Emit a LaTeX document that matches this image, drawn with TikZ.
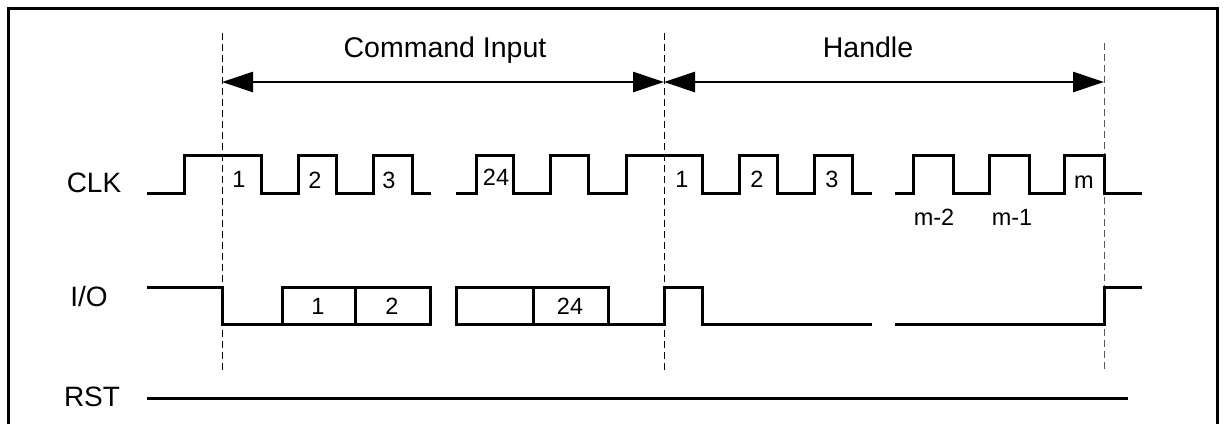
\documentclass[tikz,border=0pt]{standalone}
\usepackage{fontspec}
\setmainfont{Liberation Sans}
\usetikzlibrary{arrows.meta}
\tikzset{
  wave/.style={line width=3pt},
  marker/.style={line width=1pt, dash pattern=on 7pt off 4pt},
  sig/.style={inner sep=0pt, font=\fontsize{28}{30}\selectfont},
  tick/.style={inner sep=0pt, font=\fontsize{23.5}{25}\selectfont},
  phase/.style={inner sep=0pt, anchor=base}
}
\begin{document}
\begin{tikzpicture}[x=1pt, y=-1pt, >={Triangle[length=31pt,width=20pt]}, line join=miter, font=\fontsize{28.5}{30}\selectfont]
	\useasboundingbox (0,0) rectangle (1224,424);
	\def\hi{155} \def\lo{193}
	\def\ioh{287} \def\iol{324}
	% frame
	\draw [line width=3pt] (8,424)--(8,8)--(1217,8)--(1217,424);
	% phase markers
	\foreach \n/\x/\t/\c in {1/222/33/black, 2/664/33/black, 3/1104/43/black!65} {
		\coordinate (t\n) at (\x,\t);
		\coordinate (b\n) at (\x,370);
		\coordinate (a\n) at (\x,82);
		\draw [marker, \c] (t\n)--(b\n);
	}
	\draw [<->, line width=2.6pt] (a1)--(a2);
	\draw [<->, line width=2.6pt] (a2)--(a3);
	\node [phase] (cmd) at (445,57) {Command Input};
	\node [phase] (hdl) at (868,57) {Handle};
	% signal names
	\node [sig] (clk) at (94,183) {CLK};
	\node [sig] (io) at (89,296) {I/O};
	\node [sig] (rst) at (92,397) {RST};
	% CLK
	\draw [wave] (147,\lo) -| (184,\hi) -| (261,\lo) -| (298,\hi) -| (336,\lo) -| (373,\hi) -| (412,\lo) -- (431,\lo);
	\draw [wave] (456,\lo) -| (476,\hi) -| (513,\lo) -| (550,\hi) -| (588,\lo) -| (626,\hi) -| (702,\lo) -| (739,\hi) -| (777,\lo) -| (814,\hi) -| (852,\lo) -- (872,\lo);
	\draw [wave] (895,\lo) -| (913,\hi) -| (953,\lo) -| (989,\hi) -| (1029,\lo) -| (1064,\hi) -| (1104,\lo) -- (1142,\lo);
	\node [tick] (c1) at (239,179) {1};
	\node [tick] (c2) at (315,180) {2};
	\node [tick] (c3) at (389,180) {3};
	\node [tick] (c24) at (496,177) {24};
	\node [tick] (h1) at (682,179) {1};
	\node [tick] (h2) at (757,179) {2};
	\node [tick] (h3) at (832,179) {3};
	\node [tick] (hm) at (1084,182) {m};
	\node [tick] (hm2) at (934,217) {m-2};
	\node [tick] (hm1) at (1012,217) {m-1};
	% I/O
	\draw [wave] (147,\ioh) -| (222,\iol) -- (282,\iol);
	\draw [wave] (282,\ioh) rectangle (355,\iol) (355,\ioh) rectangle (430,\iol);
	\draw [wave] (456,\ioh) rectangle (533,\iol) (533,\ioh) rectangle (608,\iol);
	\draw [wave] (608,\iol) -| (664,\ioh) -| (702,\iol) -- (872,\iol);
	\draw [wave] (895,\iol) -| (1104,\ioh) -- (1142,\ioh);
	\node [tick] (d1) at (318,306) {1};
	\node [tick] (d2) at (392,306) {2};
	\node [tick] (d24) at (570,306) {24};
	% RST
	\draw [wave] (147,398)--(1128,398);
\end{tikzpicture}
\end{document}
